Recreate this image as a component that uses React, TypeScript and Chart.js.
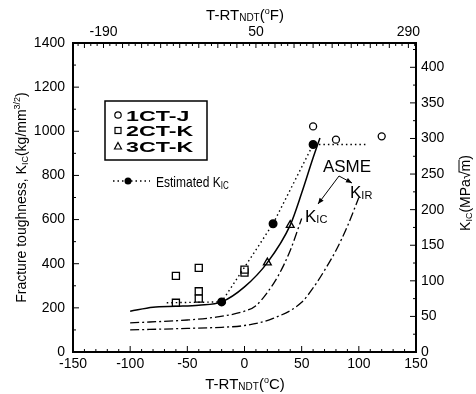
import React, { useEffect, useRef } from "react";
import { Chart, registerables } from "chart.js";

Chart.register(...registerables);

// ---- data (T - RTNDT in °C, K in kg/mm^3/2) ----
const ct1T = [60, 80, 120];
const ct1K = [1022, 962, 977];
const ct2T = [-60, -40, -40, -40, -60, 0, 0];
const ct2K = [345, 381, 275, 242, 223, 360, 373];
const ct3T = [20, 40];
const ct3K = [405, 575];
const estT = [-68, -20, 25, 60, 107];
const estK = [223, 227, 581, 940, 940];
const estMarker = [0, 1, 1, 1, 0];
const fitT = [-100, -80, -60, -40, -20, 0, 20, 40, 50, 60, 66];
const fitK = [185, 203, 207, 212, 227, 295, 405, 575, 720, 880, 970];
const kicT = [-100, -50, -25, 0, 10, 20, 30, 40, 50];
const kicK = [132, 145, 158, 185, 210, 270, 350, 460, 605];
const kirT = [-100, -50, -20, 0, 25, 50, 60, 70, 80, 90, 100];
const kirK = [100, 107, 112, 120, 152, 225, 290, 370, 460, 570, 700];

// ---- tick labels ----
const xTicksC = [-150, -100, -50, 0, 50, 100, 150];
const xTicksF = [-190, 50, 290];
const yTicksKg = [0, 200, 400, 600, 800, 1000, 1200, 1400];
const yTicksMPa = [0, 50, 100, 150, 200, 250, 300, 350, 400];
const KG_TO_MPA = 0.3101;

const FONT = "'Liberation Sans', Arial, Helvetica, sans-serif";

const pts = (xs: number[], ys: number[]) => xs.map((v, i) => ({ x: v, y: ys[i] }));

type Part = { t: string; size: number; dy?: number; bold?: boolean };

function richWidth(ctx: CanvasRenderingContext2D, parts: Part[]) {
  let w = 0;
  for (const p of parts) {
    ctx.font = `${p.bold ? "bold " : ""}${p.size}px ${FONT}`;
    w += ctx.measureText(p.t).width;
  }
  return w;
}

function drawRich(ctx: CanvasRenderingContext2D, parts: Part[], x: number, y: number, align: "left" | "center", sx = 1) {
  const w = richWidth(ctx, parts) * sx;
  const start = align === "center" ? x - w / 2 : x;
  ctx.save();
  ctx.translate(start, y);
  ctx.scale(sx, 1);
  let cx = 0;
  ctx.textAlign = "left";
  ctx.textBaseline = "alphabetic";
  for (const p of parts) {
    ctx.font = `${p.bold ? "bold " : ""}${p.size}px ${FONT}`;
    ctx.fillText(p.t, cx, p.dy || 0);
    cx += ctx.measureText(p.t).width;
  }
  ctx.restore();
}

function arrow(ctx: CanvasRenderingContext2D, x1: number, y1: number, x2: number, y2: number) {
  ctx.beginPath();
  ctx.moveTo(x1, y1);
  ctx.lineTo(x2, y2);
  ctx.stroke();
  const a = Math.atan2(y2 - y1, x2 - x1);
  const L = 6, W = 2.5;
  ctx.beginPath();
  ctx.moveTo(x2, y2);
  ctx.lineTo(x2 - L * Math.cos(a) + W * Math.sin(a), y2 - L * Math.sin(a) - W * Math.cos(a));
  ctx.lineTo(x2 - L * Math.cos(a) - W * Math.sin(a), y2 - L * Math.sin(a) + W * Math.cos(a));
  ctx.closePath();
  ctx.fill();
}

const decor = {
  id: "decor",
  afterDraw(chart: any) {
    const { ctx, chartArea: ca, scales } = chart;
    const sx = scales.x, sy = scales.y, sxF = scales.xF, syM = scales.yM;
    ctx.save();
    ctx.strokeStyle = "#000";
    ctx.fillStyle = "#000";
    ctx.lineWidth = 1;
    ctx.setLineDash([]);
    // inward ticks
    ctx.beginPath();
    for (let v = -150; v <= 150; v += 10) {
      const p = sx.getPixelForValue(v);
      const len = v % 50 === 0 ? 6 : 3;
      ctx.moveTo(p, ca.bottom);
      ctx.lineTo(p, ca.bottom - len);
    }
    for (let f = -230; f <= 300; f += 10) {
      const p = sxF.getPixelForValue(f);
      if (p < ca.left || p > ca.right) continue;
      const len = (f - 50) % 30 === 0 ? 5 : 3;
      ctx.moveTo(p, ca.top);
      ctx.lineTo(p, ca.top + len);
    }
    for (let v = 0; v <= 1400; v += 100) {
      const p = sy.getPixelForValue(v);
      const len = v % 200 === 0 ? 6 : 3;
      ctx.moveTo(ca.left, p);
      ctx.lineTo(ca.left + len, p);
    }
    for (let v = 0; v <= 425; v += 25) {
      const p = syM.getPixelForValue(v);
      const len = v % 50 === 0 ? 6 : 3;
      ctx.moveTo(ca.right, p);
      ctx.lineTo(ca.right - len, p);
    }
    ctx.stroke();

    // legend box
    ctx.lineWidth = 1.5;
    ctx.strokeRect(105, 101, 102, 59);
    const rows = [115, 130.5, 146];
    const names = ["1CT-J", "2CT-K", "3CT-K"];
    ctx.lineWidth = 1.2;
    ctx.beginPath();
    ctx.arc(118, rows[0], 3.2, 0, Math.PI * 2);
    ctx.stroke();
    ctx.strokeRect(115, rows[1] - 3, 6, 6);
    ctx.beginPath();
    ctx.moveTo(118, rows[2] - 3.5);
    ctx.lineTo(121.5, rows[2] + 3);
    ctx.lineTo(114.5, rows[2] + 3);
    ctx.closePath();
    ctx.stroke();
    names.forEach((n, i) => drawRich(ctx, [{ t: n, size: 15, bold: true }], 126, rows[i] + 5.5, "left", 1.55));

    // estimated legend
    ctx.lineWidth = 1.3;
    ctx.setLineDash([1.5, 3]);
    ctx.beginPath();
    ctx.moveTo(113, 181);
    ctx.lineTo(150, 181);
    ctx.stroke();
    ctx.setLineDash([]);
    ctx.beginPath();
    ctx.arc(128, 181, 3.5, 0, Math.PI * 2);
    ctx.fill();
    drawRich(ctx, [
      { t: "Estimated K", size: 15 },
      { t: "IC", size: 10, dy: 2 },
    ], 156, 187, "left", 0.8);

    // ASME annotation
    ctx.lineWidth = 1;
    drawRich(ctx, [{ t: "ASME", size: 17 }], 347, 172, "center");
    arrow(ctx, 339, 176, 318, 204);
    arrow(ctx, 339, 176, 352, 183);
    drawRich(ctx, [{ t: "K", size: 17 }, { t: "IC", size: 11, dy: 1 }], 305, 222, "left");
    drawRich(ctx, [{ t: "K", size: 17 }, { t: "IR", size: 11, dy: 1 }], 350, 198, "left");

    // axis titles
    drawRich(ctx, [
      { t: "T-RT", size: 15 },
      { t: "NDT", size: 10, dy: 1 },
      { t: "(", size: 15 },
      { t: "o", size: 9, dy: -6 },
      { t: "F)", size: 15 },
    ], 245, 20, "center");
    drawRich(ctx, [
      { t: "T-RT", size: 15 },
      { t: "NDT", size: 10, dy: 1 },
      { t: "(", size: 15 },
      { t: "o", size: 9, dy: -6 },
      { t: "C)", size: 15 },
    ], 245, 389, "center");
    // left title
    ctx.save();
    ctx.translate(26, (ca.top + ca.bottom) / 2);
    ctx.rotate(-Math.PI / 2);
    drawRich(ctx, [
      { t: "Fracture toughness, K", size: 14 },
      { t: "IC", size: 9, dy: 2 },
      { t: "(kg/mm", size: 14 },
      { t: "3/2", size: 9, dy: -6 },
      { t: ")", size: 14 },
    ], 0, 0, "center");
    ctx.restore();
    // right title
    ctx.save();
    ctx.translate(470, 193);
    ctx.rotate(-Math.PI / 2);
    const rparts: Part[] = [
      { t: "K", size: 14 },
      { t: "IC", size: 9, dy: 2 },
      { t: "(MPa", size: 14 },
      { t: "\u221A", size: 14 },
      { t: "m", size: 14 },
      { t: ")", size: 14 },
    ];
    drawRich(ctx, rparts, 0, 0, "center");
    const w = richWidth(ctx, rparts);
    ctx.font = `14px ${FONT}`;
    const wm = ctx.measureText("m").width;
    const wp = ctx.measureText(")").width;
    ctx.lineWidth = 1;
    ctx.beginPath();
    ctx.moveTo(w / 2 - wp - wm - 1, -11);
    ctx.lineTo(w / 2 - wp, -11);
    ctx.stroke();
    ctx.restore();

    ctx.restore();
  },
};

export default function App() {
  const ref = useRef<HTMLCanvasElement | null>(null);
  useEffect(() => {
    document.body.style.margin = "0";
    const canvas = ref.current!;
    const tickFont = { family: FONT, size: 14 };
    const plain = (v: any) => String(v);
    const grid = { display: false, drawTicks: false };
    const border = { display: true, color: "#000", width: 2 };
    const chart = new Chart(canvas, {
      type: "scatter",
      data: {
        datasets: [
          {
            label: "ASME KIR",
            data: pts(kirT, kirK),
            showLine: true,
            borderColor: "#000",
            borderWidth: 1.3,
            borderDash: [9, 3, 2, 3],
            pointRadius: 0,
            cubicInterpolationMode: "monotone",
          },
          {
            label: "ASME KIC",
            data: pts(kicT, kicK),
            showLine: true,
            borderColor: "#000",
            borderWidth: 1.3,
            borderDash: [9, 3, 2, 3],
            pointRadius: 0,
            cubicInterpolationMode: "monotone",
          },
          {
            label: "Fit",
            data: pts(fitT, fitK),
            showLine: true,
            borderColor: "#000",
            borderWidth: 1.5,
            pointRadius: 0,
            cubicInterpolationMode: "monotone",
          },
          {
            label: "Estimated KIC",
            data: pts(estT, estK),
            showLine: true,
            borderColor: "#000",
            borderWidth: 1.4,
            borderDash: [1.5, 3],
            pointRadius: estMarker.map((m) => (m ? 3.8 : 0)),
            pointBackgroundColor: "#000",
            pointBorderColor: "#000",
            tension: 0,
          },
          {
            label: "1CT-J",
            data: pts(ct1T, ct1K),
            pointStyle: "circle",
            pointRadius: 3.5,
            pointBorderWidth: 1.3,
            pointBackgroundColor: "#fff",
            pointBorderColor: "#000",
          },
          {
            label: "2CT-K",
            data: pts(ct2T, ct2K),
            pointStyle: "rect",
            pointRadius: 5,
            pointBorderWidth: 1.3,
            pointBackgroundColor: "#fff",
            pointBorderColor: "#000",
          },
          {
            label: "3CT-K",
            data: pts(ct3T, ct3K),
            pointStyle: "triangle",
            pointRadius: 4.5,
            pointBorderWidth: 1.3,
            pointBackgroundColor: "#fff",
            pointBorderColor: "#000",
          },
        ],
      },
      options: {
        responsive: false,
        animation: false,
        layout: { padding: 0 },
        plugins: { legend: { display: false }, tooltip: { enabled: false }, title: { display: false } },
        scales: {
          x: {
            type: "linear",
            position: "bottom",
            min: -150,
            max: 150,
            afterBuildTicks: (s: any) => { s.ticks = xTicksC.map((v) => ({ value: v })); },
            afterFit: (s: any) => { s.height = 42; },
            grid,
            border,
            ticks: { color: "#000", font: tickFont, padding: 4, maxRotation: 0, autoSkip: false, callback: plain },
          },
          xF: {
            type: "linear",
            position: "top",
            min: -150 * 1.8 + 32,
            max: 150 * 1.8 + 32,
            afterBuildTicks: (s: any) => { s.ticks = xTicksF.map((v) => ({ value: v })); },
            afterFit: (s: any) => { s.height = 43; },
            grid,
            border,
            ticks: { color: "#000", font: tickFont, padding: 2, maxRotation: 0, autoSkip: false, callback: plain },
          },
          y: {
            type: "linear",
            position: "left",
            min: 0,
            max: 1400,
            afterBuildTicks: (s: any) => { s.ticks = yTicksKg.map((v) => ({ value: v })); },
            afterFit: (s: any) => { s.width = 73; },
            grid,
            border,
            ticks: { color: "#000", font: tickFont, padding: 8, autoSkip: false, callback: plain },
          },
          yM: {
            type: "linear",
            position: "right",
            min: 0,
            max: 1400 * KG_TO_MPA,
            afterBuildTicks: (s: any) => { s.ticks = yTicksMPa.map((v) => ({ value: v })); },
            afterFit: (s: any) => { s.width = 60; },
            grid,
            border,
            ticks: { color: "#000", font: tickFont, padding: 5, autoSkip: false, callback: plain },
          },
        },
      } as any,
      plugins: [decor],
    });
    return () => chart.destroy();
  }, []);
  return (
    <div style={{ position: "relative", width: 476, height: 394, background: "#fff" }}>
      <canvas ref={ref} width={476} height={394} style={{ display: "block" }} />
    </div>
  );
}
